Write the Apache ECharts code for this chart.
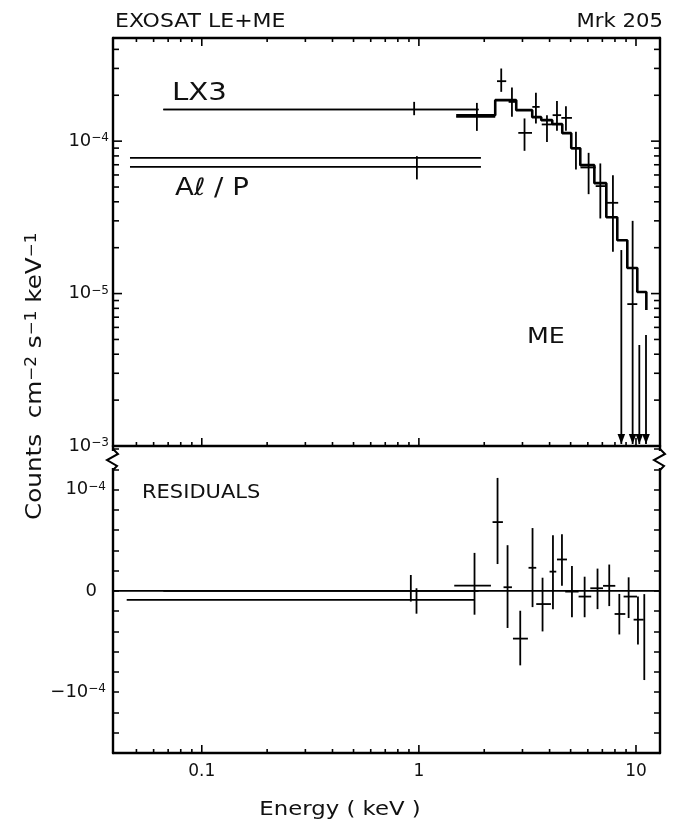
<!DOCTYPE html>
<html>
<head>
<meta charset="utf-8">
<script src="https://cdn.jsdelivr.net/npm/echarts@6/dist/echarts.min.js"></script>
<style>html,body{margin:0;padding:0;background:#fff}#c{width:678px;height:837px}</style>
</head>
<body>
<div id="c"></div>
<script>
// ---------------- axis ranges ----------------
const xMin = 0.039, xMax = 12.9;          // Energy (keV), log
const fluxMin = 1e-6, fluxMax = 4.75e-4;  // counts cm-2 s-1 keV-1, log
const resMin = -1.6, resMax = 1.43, resStep = 0.2; // residuals, units of 1e-4

// ---------------- ticks & tick labels ----------------
const xMajorTicks = [0.1, 1, 10];
const xTickLabels = ['0.1', '1', '10'];
const xMinorTicks = [0.05, 0.06, 0.07, 0.08, 0.09, 0.2, 0.3, 0.4, 0.5, 0.6, 0.7, 0.8, 0.9, 2, 3, 4, 5, 6, 7, 8, 9];
const fluxMajorTicks = [1e-6, 1e-5, 1e-4];
const fluxTickLabels = ['{b|10}{s|−3}', '{b|10}{s|−5}', '{b|10}{s|−4}'];
const fluxMinorTicks = [2e-6, 3e-6, 4e-6, 5e-6, 6e-6, 7e-6, 8e-6, 9e-6,
                        2e-5, 3e-5, 4e-5, 5e-5, 6e-5, 7e-5, 8e-5, 9e-5,
                        2e-4, 3e-4, 4e-4];
const resTickValues = [1, 0, -1];
const resTickLabels = ['{b|10}{s|−4}', '{b|0\u2002}', '{b|−10}{s|−4}'];

// ---------------- LE broad-band points (LX3, Al/P) ----------------
const leBands = ['LX3', 'Al/P'];
const leElo = [0.0665, 0.0467];
const leEhi = [1.883, 1.931];
const leFlux = [1.614e-4, 6.78e-5];
const leModel = [1.614e-4, 7.77e-5];
const leBarE = [0.951, 0.979];
const leBarLo = [1.48e-4, 5.61e-5];
const leBarHi = [1.81e-4, 7.97e-5];
// LE residuals (units of 1e-4)
const leResElo = [0.0665, 0.0451];
const leResEhi = [1.883, 1.804];
const leRes = [0.0, -0.088];
const leResBarE = [0.918, 0.975];
const leResBarLo = [-0.105, -0.225];
const leResBarHi = [0.157, 0.026];

// ---------------- ME model (histogram) ----------------
const meModelEdges = [1.485, 2.247, 2.808, 3.327, 3.661, 4.115, 4.575, 5.032, 5.538, 6.43, 7.30, 8.20, 9.12, 10.14, 11.16];
const meModelFlux = [1.48e-4, 1.857e-4, 1.597e-4, 1.437e-4, 1.373e-4, 1.293e-4, 1.128e-4, 8.99e-5, 6.96e-5, 5.30e-5, 3.17e-5, 2.24e-5, 1.47e-5, 1.023e-5];
const meModelTail = 7.79e-6;

// ---------------- ME data ----------------
const meE   = [1.85, 2.395, 2.683, 3.066, 3.46, 3.89, 4.325, 4.757, 5.29, 6.05, 6.85, 7.83, 9.65];
const meElo = [1.485, 2.29, 2.59, 2.87, 3.33, 3.68, 4.13, 4.53, 5.05, 5.55, 6.52, 7.30, 9.12];
const meEhi = [2.247, 2.525, 2.83, 3.32, 3.60, 4.10, 4.52, 5.07, 5.55, 6.52, 7.30, 8.28, 10.14];
const meF   = [1.443e-4, 2.474e-4, 1.809e-4, 1.133e-4, 1.678e-4, 1.287e-4, 1.481e-4, 1.421e-4, 8.96e-5, 6.72e-5, 5.07e-5, 3.94e-5, 8.53e-6];
const meFlo = [1.168e-4, 2.106e-4, 1.443e-4, 8.64e-5, 1.307e-4, 9.89e-5, 1.168e-4, 1.168e-4, 6.52e-5, 4.49e-5, 3.11e-5, 1.88e-5, null];
const meFhi = [1.782e-4, 2.996e-4, 2.250e-4, 1.409e-4, 2.074e-4, 1.481e-4, 1.837e-4, 1.696e-4, 1.151e-4, 8.38e-5, 7.14e-5, 5.98e-5, 3.00e-5];
// ME upper limits (arrows)
const ulE = [8.56, 10.36, 11.12];
const ulF = [1.93e-5, 4.60e-6, 5.34e-6];

// ---------------- ME residuals (units of 1e-4) ----------------
const resE   = [1.804, 2.303, 2.561, 2.930, 3.338, 3.712, 4.145, 4.560, 5.07, 5.80, 6.65, 7.53, 8.38, 9.25, 10.21, 10.92];
const resElo = [1.455, 2.184, 2.454, 2.712, 3.199, 3.472, 3.999, 4.325, 4.722, 5.44, 6.16, 7.05, 7.97, 8.77, 9.75, null];
const resEhi = [2.147, 2.438, 2.683, 3.178, 3.472, 4.058, 4.293, 4.809, 5.44, 6.22, 7.05, 8.03, 8.93, 10.11, 10.85, null];
const resV   = [0.052, 0.679, 0.036, -0.471, 0.228, -0.13, 0.19, 0.31, -0.007, -0.056, 0.026, 0.05, -0.228, -0.056, -0.284, -0.45];
const resLo  = [-0.235, 0.265, -0.366, -0.735, -0.16, -0.40, -0.18, 0.05, -0.26, -0.26, -0.18, -0.15, -0.43, -0.268, -0.53, -0.88];
const resHi  = [0.375, 1.115, 0.451, -0.196, 0.62, 0.13, 0.55, 0.56, 0.245, 0.14, 0.22, 0.26, -0.03, 0.134, -0.056, -0.032];

// ---------------- styling ----------------
const FONT = 'DejaVu Sans';
const INK = '#111';
const BAR = { stroke: '#000', lineWidth: 1.8 };
const TICK = { stroke: '#000', lineWidth: 1.6 };
const labelRich = {
  b: { fontFamily: FONT, fontSize: 18, color: INK },
  s: { fontFamily: FONT, fontSize: 12, color: INK, verticalAlign: 'top' }
};

function labelFor(v, vals, labels, isLog) {
  for (let i = 0; i < vals.length; i++) {
    const d = isLog ? Math.abs(Math.log10(v) - Math.log10(vals[i])) : Math.abs(v - vals[i]);
    if (d < 1e-6) return labels[i];
  }
  return '';
}

function logX(gridIndex, position, showLabels) {
  return {
    type: 'log', logBase: 10, gridIndex, position, min: xMin, max: xMax,
    axisLine: { show: true, onZero: false, lineStyle: { color: '#000', width: 2.4 } },
    axisTick: { show: false }, splitLine: { show: false }, minorTick: { show: false },
    axisLabel: { show: showLabels, margin: 10, fontFamily: FONT, fontSize: 17, color: INK,
      formatter: v => labelFor(v, xMajorTicks, xTickLabels, true) }
  };
}
function logY(position, showLabels) {
  return {
    type: 'log', logBase: 10, gridIndex: 0, position, min: fluxMin, max: fluxMax,
    axisLine: { show: true, onZero: false, lineStyle: { color: '#000', width: 2.4 } },
    axisTick: { show: false }, splitLine: { show: false }, minorTick: { show: false },
    axisLabel: { show: showLabels, margin: 4, rich: labelRich, color: INK,
      formatter: v => labelFor(v, fluxMajorTicks, fluxTickLabels, true) }
  };
}
function resY(position, showLabels) {
  return {
    type: 'value', gridIndex: 1, position, min: resMin, max: resMax, interval: resStep,
    axisLine: { show: true, onZero: false, lineStyle: { color: '#000', width: 2.4 } },
    axisTick: { show: true, inside: true, length: 6, lineStyle: { color: '#000', width: 1.5 } },
    splitLine: { show: false },
    axisLabel: { show: showLabels, margin: 7, rich: labelRich, color: INK,
      formatter: v => labelFor(v, resTickValues, resTickLabels, false) }
  };
}

// tick marks drawn through the axes' own scales
function yTickSeries(xi, yi, yVals, len) {
  return {
    type: 'custom', xAxisIndex: xi, yAxisIndex: yi, silent: true, clip: false, z: 3,
    data: yVals.map(v => [xMin, v]),
    renderItem(params, api) {
      const v = api.value(1);
      const l = api.coord([xMin, v]), r = api.coord([xMax, v]);
      return { type: 'group', children: [
        { type: 'line', shape: { x1: l[0], y1: l[1], x2: l[0] + len, y2: l[1] }, style: TICK },
        { type: 'line', shape: { x1: r[0], y1: r[1], x2: r[0] - len, y2: r[1] }, style: TICK }
      ] };
    }
  };
}
function xTickSeries(xi, yi, xVals, len, yLo, yHi, withTop) {
  return {
    type: 'custom', xAxisIndex: xi, yAxisIndex: yi, silent: true, clip: false, z: 3,
    data: xVals.map(v => [v, yLo]),
    renderItem(params, api) {
      const v = api.value(0);
      const b = api.coord([v, yLo]);
      const children = [{ type: 'line', shape: { x1: b[0], y1: b[1], x2: b[0], y2: b[1] - len }, style: TICK }];
      if (withTop) {
        const t = api.coord([v, yHi]);
        children.push({ type: 'line', shape: { x1: t[0], y1: t[1], x2: t[0], y2: t[1] + len }, style: TICK });
      }
      return { type: 'group', children };
    }
  };
}

// crosses (error bars); null low value -> arrow down to axis floor
function crossSeries(xi, yi, E, Elo, Ehi, V, Vlo, Vhi, floor) {
  return {
    type: 'custom', xAxisIndex: xi, yAxisIndex: yi, silent: true, clip: false, z: 6,
    data: E.map((e, i) => [e, V[i]]),
    renderItem(params, api) {
      const i = params.dataIndex;
      const c = api.coord([E[i], V[i]]);
      const children = [];
      if (Elo && Elo[i] != null) {
        const l = api.coord([Elo[i], V[i]]), r = api.coord([Ehi[i], V[i]]);
        children.push({ type: 'line', shape: { x1: l[0], y1: c[1], x2: r[0], y2: c[1] }, style: BAR });
      }
      const hi = api.coord([E[i], Vhi[i]]);
      const arrow = Vlo[i] == null;
      const lo = api.coord([E[i], arrow ? floor : Vlo[i]]);
      const bottom = arrow ? lo[1] - 2 : lo[1];
      children.push({ type: 'line', shape: { x1: c[0], y1: hi[1], x2: c[0], y2: bottom }, style: BAR });
      if (arrow) {
        children.push({ type: 'polygon', shape: { points: [[c[0] - 3.8, bottom - 10], [c[0] + 3.8, bottom - 10], [c[0], bottom]] },
          style: { fill: '#000' } });
      }
      return { type: 'group', children };
    }
  };
}

function hLine(xi, yi, a, b, v, width) {
  return { type: 'line', xAxisIndex: xi, yAxisIndex: yi, data: [[a, v], [b, v]], symbol: 'none', silent: true, z: 4,
    lineStyle: { color: '#000', width } };
}

// model histogram points
const modelPts = meModelFlux.map((f, i) => [meModelEdges[i], f]);
modelPts.push([meModelEdges[meModelEdges.length - 1], meModelFlux[meModelFlux.length - 1]]);
modelPts.push([meModelEdges[meModelEdges.length - 1], meModelTail]);

const series = [];
// ticks
series.push(yTickSeries(0, 0, fluxMajorTicks, 9));
series.push(yTickSeries(0, 0, fluxMinorTicks, 6));
series.push(xTickSeries(0, 0, xMajorTicks, 8, fluxMin, fluxMax, true));
series.push(xTickSeries(0, 0, xMinorTicks, 4, fluxMin, fluxMax, true));
series.push(xTickSeries(2, 2, xMajorTicks, 8, resMin, resMax, false));
series.push(xTickSeries(2, 2, xMinorTicks, 4, resMin, resMax, false));

// LE bands (top)
leBands.forEach((name, i) => {
  series.push(hLine(0, 0, leElo[i], leEhi[i], leFlux[i], 1.6));
  series.push(hLine(0, 0, leElo[i], leEhi[i], leModel[i], 1.6));
});
series.push(crossSeries(0, 0, leBarE, null, null, leFlux, leBarLo, leBarHi, fluxMin));

// ME model
series.push({ type: 'line', xAxisIndex: 0, yAxisIndex: 0, data: modelPts, step: 'end', symbol: 'none', silent: true, z: 5,
  lineStyle: { color: '#000', width: 2.6 } });
// ME data
series.push(crossSeries(0, 0, meE, meElo, meEhi, meF, meFlo, meFhi, fluxMin));
series.push(crossSeries(0, 0, ulE, null, null, ulF, ulE.map(() => null), ulF, fluxMin));

// residuals: zero line + LE bands
series.push(hLine(2, 2, xMin, xMax, 0, 1.8));
leBands.forEach((name, i) => {
  series.push(hLine(2, 2, leResElo[i], leResEhi[i], leRes[i], 1.8));
});
series.push(crossSeries(2, 2, leResBarE, null, null, leRes, leResBarLo, leResBarHi, resMin));
series.push(crossSeries(2, 2, resE, resElo, resEhi, resV, resLo, resHi, resMin));

// axis-break marks at the top of the residual axes
series.push({
  type: 'custom', xAxisIndex: 2, yAxisIndex: 2, silent: true, clip: false, z: 7,
  data: [[xMin, resMax], [xMax, resMax]],
  renderItem(params, api) {
    const p = api.coord([api.value(0), api.value(1)]);
    const x = p[0], y = p[1];
    return { type: 'group', children: [
      { type: 'line', shape: { x1: x, y1: y + 5, x2: x, y2: y + 22 }, style: { stroke: '#fff', lineWidth: 5 } },
      { type: 'polyline', shape: { points: [[x, y + 3], [x + 5, y + 8], [x - 6, y + 14], [x + 4, y + 20], [x, y + 24]] },
        style: { stroke: '#000', lineWidth: 2, fill: null } }
    ] };
  }
});

function txt(text, x, y, size, opts) {
  opts = opts || {};
  return {
    type: 'text', x, y, rotation: opts.rotation || 0, scaleX: opts.scaleX || 1, silent: true, z: 10,
    style: { text, fontFamily: FONT, fontSize: size, fill: INK,
      align: opts.align || 'left', textAlign: opts.align || 'left',
      verticalAlign: 'middle', textVerticalAlign: 'middle',
      rich: opts.rich }
  };
}

const titleRich = {
  t: { fontFamily: FONT, fontSize: 22, fill: INK, color: INK },
  s: { fontFamily: FONT, fontSize: 15, fill: INK, color: INK, verticalAlign: 'top' }
};

const option = {
  animation: false,
  backgroundColor: '#fff',
  grid: [
    { left: 113, top: 38, width: 547, height: 408, containLabel: false, outerBoundsMode: 'none' },
    { left: 113, top: 446, width: 547, height: 307, containLabel: false, outerBoundsMode: 'none' }
  ],
  xAxis: [logX(0, 'bottom', false), logX(0, 'top', false), logX(1, 'bottom', true)],
  yAxis: [logY('left', true), logY('right', false), resY('left', true), resY('right', false)],
  series,
  graphic: [
    txt('EXOSAT LE+ME', 115, 21.5, 20, { scaleX: 1.1 }),
    txt('Mrk 205', 663, 21.5, 20, { align: 'right', scaleX: 1.06 }),
    txt('LX3', 172, 94, 24, { scaleX: 1.22 }),
    txt('Aℓ / P', 175, 189, 24, { scaleX: 1.15 }),
    txt('ME', 527, 337, 22, { scaleX: 1.15 }),
    txt('RESIDUALS', 142, 492.5, 20, { scaleX: 1.05 }),
    txt('{t|Counts  cm}{s|−2}{t| s}{s|−1}{t| keV}{s|−1}', 35.5, 520, 22, { rotation: Math.PI / 2, scaleX: 1.12, rich: titleRich }),
    txt('Energy ( keV )', 340, 810.5, 19, { align: 'center', scaleX: 1.2 })
  ]
};

const chart = echarts.init(document.getElementById('c'), null, { renderer: 'canvas', width: 678, height: 837 });
chart.setOption(option);
</script>
</body>
</html>
